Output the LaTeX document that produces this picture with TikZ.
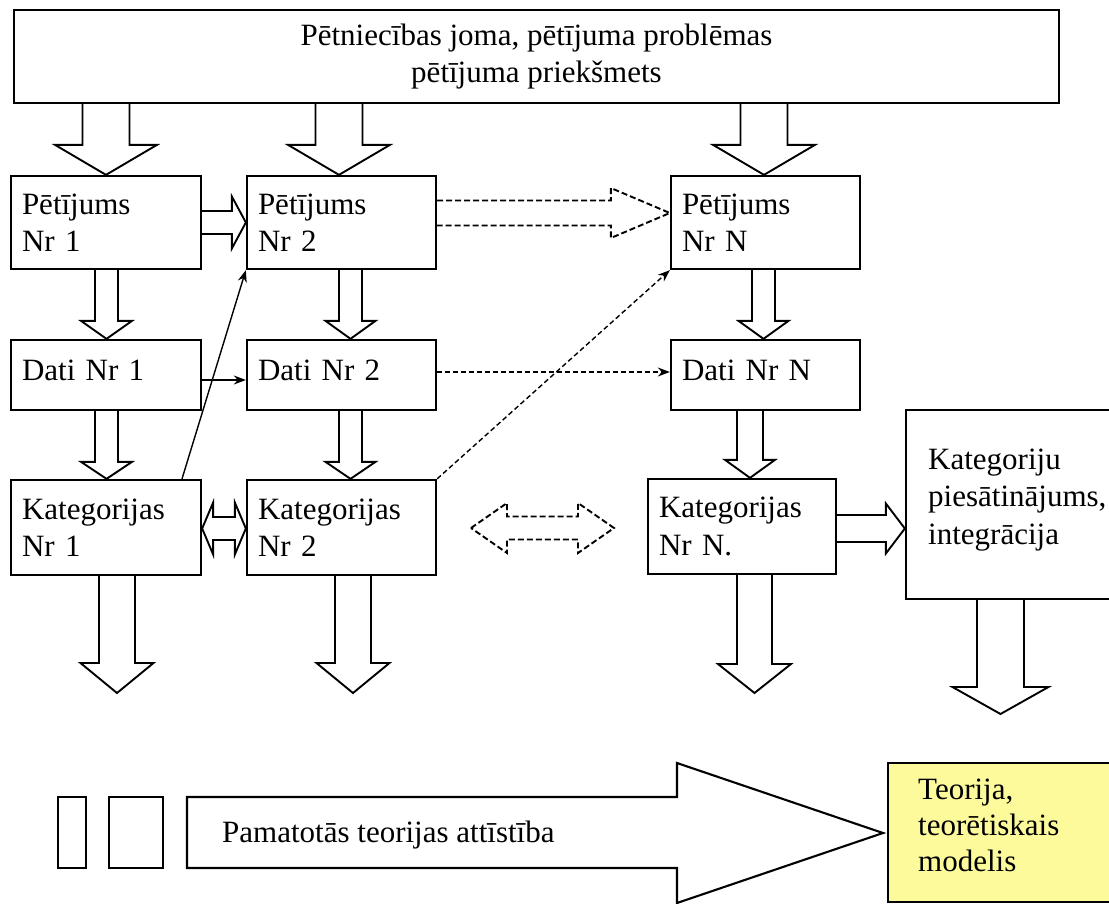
\documentclass[tikz,border=0pt]{standalone}
\usepackage{fontspec}
\setmainfont{Liberation Serif}
\usetikzlibrary{calc,arrows.meta}
\definecolor{teoyellow}{RGB}{252,250,155}
\tikzset{
  box/.style={draw, line width=2.3pt, rectangle, inner sep=0pt, align=left, anchor=center},
  lbl/.style={inner sep=0pt, align=left, anchor=west},
  hollow/.style={draw, line width=1.9pt, line join=miter},
  hollowdash/.style={hollow, dash pattern=on 6pt off 3pt},
  thin/.style={draw, line width=1.4pt, -{Stealth[length=12pt,width=9pt]}},
  thindash/.style={thin, dash pattern=on 5pt off 3pt}
}
% hollow arrow going down: start coord, tip coord, centre x, shaft half width, head half width, head length
\newcommand\hdown[6]{%
  \path[hollow] let \p1=#1, \p2=#2 in
    ({#3pt-#4pt},\y1) -- ({#3pt-#4pt},{\y2+#6pt}) -- ({#3pt-#5pt},{\y2+#6pt}) -- (#3pt,\y2)
    -- ({#3pt+#5pt},{\y2+#6pt}) -- ({#3pt+#4pt},{\y2+#6pt}) -- ({#3pt+#4pt},\y1);}
% hollow arrow going right: start coord, tip coord, centre y (downwards), shaft half, head half, head length
\newcommand\hright[7][hollow]{%
  \path[#1] let \p1=#2, \p2=#3 in
    (\x1,{-#4pt+#5pt}) -- ({\x2-#7pt},{-#4pt+#5pt}) -- ({\x2-#7pt},{-#4pt+#6pt}) -- (\x2,{-#4pt})
    -- ({\x2-#7pt},{-#4pt-#6pt}) -- ({\x2-#7pt},{-#4pt-#5pt}) -- (\x1,{-#4pt-#5pt});}
% hollow double arrow between two x positions
\newcommand\hboth[7][hollow]{%
  \path[#1] let \p1=#2, \p2=#3 in
    (\x1,{-#4pt}) -- ({\x1+#7pt},{-#4pt+#6pt}) -- ({\x1+#7pt},{-#4pt+#5pt}) -- ({\x2-#7pt},{-#4pt+#5pt})
    -- ({\x2-#7pt},{-#4pt+#6pt}) -- (\x2,{-#4pt}) -- ({\x2-#7pt},{-#4pt-#6pt}) -- ({\x2-#7pt},{-#4pt-#5pt})
    -- ({\x1+#7pt},{-#4pt-#5pt}) -- ({\x1+#7pt},{-#4pt-#6pt}) -- cycle;}
\begin{document}
\begin{tikzpicture}[x=1pt,y=-1pt,font=\fontsize{31}{37.5}\selectfont]
\useasboundingbox (0,0) rectangle (1109,903);

% top box
\node[box, minimum width=1045pt, minimum height=93pt, align=center] (top) at (536.5,56.5)
  {Pētniecības joma, pētījuma problēmas\\pētījuma priekšmets};

% studies
\node[box, minimum width=190pt, minimum height=93pt, text width=168pt] (p1) at (106,222.5) {Pētījums\\Nr 1};
\node[box, minimum width=189pt, minimum height=93pt, text width=167pt] (p2) at (341.5,222.5) {Pētījums\\Nr 2};
\node[box, minimum width=189pt, minimum height=93pt, text width=167pt] (pN) at (765.5,222.5) {Pētījums\\Nr N};

% data
\node[box, minimum width=190pt, minimum height=70pt, text width=168pt, text height=22pt, text depth=12pt] (d1) at (106,375) {Dati Nr 1};
\node[box, minimum width=189pt, minimum height=70pt, text width=167pt, text height=22pt, text depth=12pt] (d2) at (341.5,375) {Dati Nr 2};
\node[box, minimum width=189pt, minimum height=70pt, text width=167pt, text height=22pt, text depth=12pt] (dN) at (765.5,375) {Dati Nr N};

% categories
\node[box, minimum width=190pt, minimum height=95pt, text width=168pt] (k1) at (106,527.5) {Kategorijas\\Nr 1};
\node[box, minimum width=189pt, minimum height=95pt, text width=167pt] (k2) at (341.5,527.5) {Kategorijas\\Nr 2};
\node[box, minimum width=188pt, minimum height=95pt, text width=166pt] (kN) at (742,526.5) {Kategorijas\\Nr N.};

% saturation box, running past the right edge
\node[box, minimum width=230pt, minimum height=189pt] (kint) at (1021,504.5) {};
\node[lbl] (kinttxt) at (928,500) {Kategoriju\\piesātinājums,\\integrācija};

% theory box
\node[box, fill=teoyellow, minimum width=240pt, minimum height=139pt] (teo) at (1008,832.5) {};
\node[lbl, font=\fontsize{31}{36}\selectfont] (teotxt) at (918,825) {Teorija,\\teorētiskais\\modelis};

% arrows from the top box
\hdown{(top.south -| 106,0)}{(p1.north)}{106}{23.5}{51}{30}
\hdown{(top.south -| 339,0)}{(p2.north)}{339}{23.5}{51}{30}
\hdown{(top.south -| 764,0)}{(pN.north)}{764}{23.5}{51}{30}

% study -> data -> categories
\hdown{(p1.south)}{(d1.north)}{106.5}{11.5}{25.5}{18}
\hdown{(p2.south)}{(d2.north)}{350.5}{11.5}{25}{18}
\hdown{(pN.south)}{(dN.north)}{763.5}{11.5}{25}{18}
\hdown{(d1.south)}{(k1.north)}{106.5}{11.5}{25.5}{17}
\hdown{(d2.south)}{(k2.north)}{350.5}{11.5}{25}{17}
\hdown{(dN.south)}{(kN.north)}{750}{13}{25}{18}

% category outputs
\coordinate (t1) at (117,693);
\coordinate (t2) at (353,693);
\coordinate (tN) at (754.5,693);
\coordinate (tI) at (1000.5,714);
\hdown{(k1.south)}{(t1)}{117}{18}{36.5}{30}
\hdown{(k2.south)}{(t2)}{353}{18}{36.5}{30}
\hdown{(kN.south)}{(tN)}{754.5}{17.5}{36.5}{29}
\hdown{(kint.south)}{(tI)}{1000.5}{23.5}{48}{27}

% horizontal hollow arrows
\hright{(p1.east)}{(p2.west)}{222.5}{11.5}{26}{14}
\hright[hollowdash]{(p2.east)}{(pN.west)}{213}{12.5}{25}{59}
\hright{(kN.east)}{(kint.west)}{528.5}{13.5}{25}{19}
\hboth{(k1.east)}{(k2.west)}{528.5}{11.5}{26}{11}
\coordinate (dl) at (471,528);
\coordinate (dr) at (614,528);
\hboth[hollowdash]{(dl)}{(dr)}{528}{11.5}{25}{36}

% thin connectors
\draw[thin] (d1.east |- 0,380) -- (d2.west |- 0,380);
\draw[thindash] (d2.east |- 0,372) -- (dN.west |- 0,372);
\draw[thin] (k1.north -| 182,0) -- (p2.south west);
\draw[thindash] (k2.north east) -- (pN.south west);

% development arrow
\node[box, minimum width=28pt, minimum height=71pt] (r1) at (72,832.5) {};
\node[box, minimum width=54pt, minimum height=71pt] (r2) at (136,832.5) {};
\path[hollow, line width=2.1pt] (187,797) -- (677,797) -- (677,763) -- (883,833) -- (677,903) -- (677,868) -- (187,868) -- cycle;
\node[inner sep=0pt, anchor=base west] (dev) at (222,842) {Pamatotās teorijas attīstība};
\end{tikzpicture}
\end{document}
